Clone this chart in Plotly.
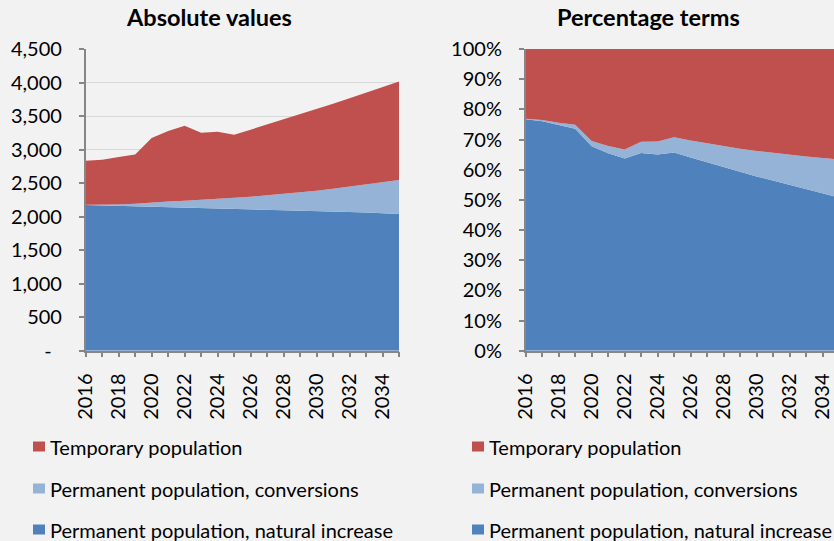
import plotly.graph_objects as go

years = list(range(2016, 2036))
natural_increase = [2173, 2167, 2162, 2155, 2149, 2144, 2138, 2131, 2125, 2118,
                    2111, 2104, 2097, 2090, 2083, 2076, 2068, 2060, 2050, 2040]
conversions = [5, 12, 20, 38, 55, 80, 100, 120, 140, 161,
               186, 213, 241, 271, 304, 340, 378, 419, 462, 507]
temporary = [656, 670, 707, 735, 968, 1053, 1118, 1001, 1002, 943,
             1000, 1056, 1111, 1164, 1218, 1269, 1321, 1371, 1421, 1470]

series_names = ["Permanent population, natural increase",
                "Permanent population, conversions",
                "Temporary population"]
series_values = [natural_increase, conversions, temporary]
series_colors = ["#4f81bd", "#95b3d7", "#c0504d"]

abs_tickvals = [0, 500, 1000, 1500, 2000, 2500, 3000, 3500, 4000, 4500]
abs_ticktext = ["-\u00a0\u00a0", "500", "1,000", "1,500", "2,000", "2,500",
                "3,000", "3,500", "4,000", "4,500"]
pct_tickvals = [0, 10, 20, 30, 40, 50, 60, 70, 80, 90, 100]
pct_ticktext = [f"{v}%" for v in pct_tickvals]
year_tickvals = list(range(2016, 2036, 2))
titles = ["Absolute values", "Percentage terms"]

W, H = 834, 541
FONT = "Lato"
BG = "#f2f2f2"
AXIS = "#868686"
FS = 20

def px(x):
    return x / W

def py(y):
    return (H - y) / H

fig = go.Figure()
for name, vals, col in zip(series_names, series_values, series_colors):
    fig.add_trace(go.Scatter(x=years, y=vals, name=name, stackgroup="abs",
                             mode="lines", line=dict(width=0, color=col),
                             fillcolor=col, showlegend=False,
                             xaxis="x", yaxis="y"))
for name, vals, col in zip(series_names, series_values, series_colors):
    fig.add_trace(go.Scatter(x=years, y=vals, name=name, stackgroup="pct",
                             groupnorm="percent",
                             mode="lines", line=dict(width=0, color=col),
                             fillcolor=col, showlegend=False,
                             xaxis="x2", yaxis="y2"))

y_dom = [py(350.7), py(49)]
xcommon = dict(showline=True, linecolor=AXIS, linewidth=1.5, ticks="outside",
               ticklen=5, tickcolor=AXIS, tickwidth=1.5, showgrid=False,
               zeroline=False, tickangle=-90, ticklabelstandoff=8, automargin=False,
               tickfont=dict(family=FONT, size=FS, color="#000000"),
               minor=dict(ticks="outside", ticklen=5, tickcolor=AXIS,
                          tickwidth=1.5, dtick=1, showgrid=False),
               tickmode="array", tickvals=year_tickvals,
               ticktext=[str(y) for y in year_tickvals])
ycommon = dict(showline=True, linecolor=AXIS, linewidth=1.5, ticks="outside",
               ticklen=5, tickcolor=AXIS, tickwidth=1.5, zeroline=False,
               ticklabelstandoff=13, automargin=False,
               tickfont=dict(family=FONT, size=FS, color="#000000"),
               tickmode="array", domain=y_dom)

fig.update_layout(
    template="none",
    width=W, height=H, margin=dict(l=0, r=0, t=0, b=0, pad=0), autosize=False,
    paper_bgcolor=BG, plot_bgcolor=BG, hovermode=False,
    xaxis=dict(domain=[px(85.7), px(399)], range=[2016, 2035], anchor="y", **xcommon),
    yaxis=dict(range=[0, 4500], tickvals=abs_tickvals, ticktext=abs_ticktext,
               showgrid=True, gridcolor="#d9d9d9", gridwidth=1, anchor="x", **ycommon),
    xaxis2=dict(domain=[px(525.7), 1.0], range=[2016, 2016 + (834 - 525.7) / 16.49],
                anchor="y2", **xcommon),
    yaxis2=dict(range=[0, 100], tickvals=pct_tickvals, ticktext=pct_ticktext,
                showgrid=False, anchor="x2", **ycommon),
)

# titles
for t, cx in zip(titles, [209, 648]):
    fig.add_annotation(text=f"<b>{t}</b>", x=px(cx), y=py(17), xref="paper", yref="paper",
                       xanchor="center", yanchor="middle", showarrow=False,
                       font=dict(family=FONT, size=23.5, color="#000000"))

# legends (drawn in legend order: temporary, conversions, natural increase)
legend_rows = [446.5, 488.5, 529.5]
legend_order = [2, 1, 0]
for lx in [33, 472]:
    for row_y, idx in zip(legend_rows, legend_order):
        fig.add_shape(type="rect", xref="paper", yref="paper",
                      x0=px(lx), x1=px(lx + 12), y0=py(row_y + 5), y1=py(row_y - 5),
                      fillcolor=series_colors[idx], line=dict(width=0))
        fig.add_annotation(text=series_names[idx], x=px(lx + 15), y=py(row_y),
                           xref="paper", yref="paper", xanchor="left", yanchor="middle",
                           showarrow=False,
                           font=dict(family=FONT, size=20, color="#000000"))

fig.write_html("out.html", config={"displayModeBar": False, "responsive": False})

with open("out.html", "r", encoding="utf-8") as f:
    html = f.read()
html = html.replace("<head>", "<head><style>html,body{margin:0;padding:0;overflow:hidden;background:#f2f2f2}</style>", 1)
with open("out.html", "w", encoding="utf-8") as f:
    f.write(html)
